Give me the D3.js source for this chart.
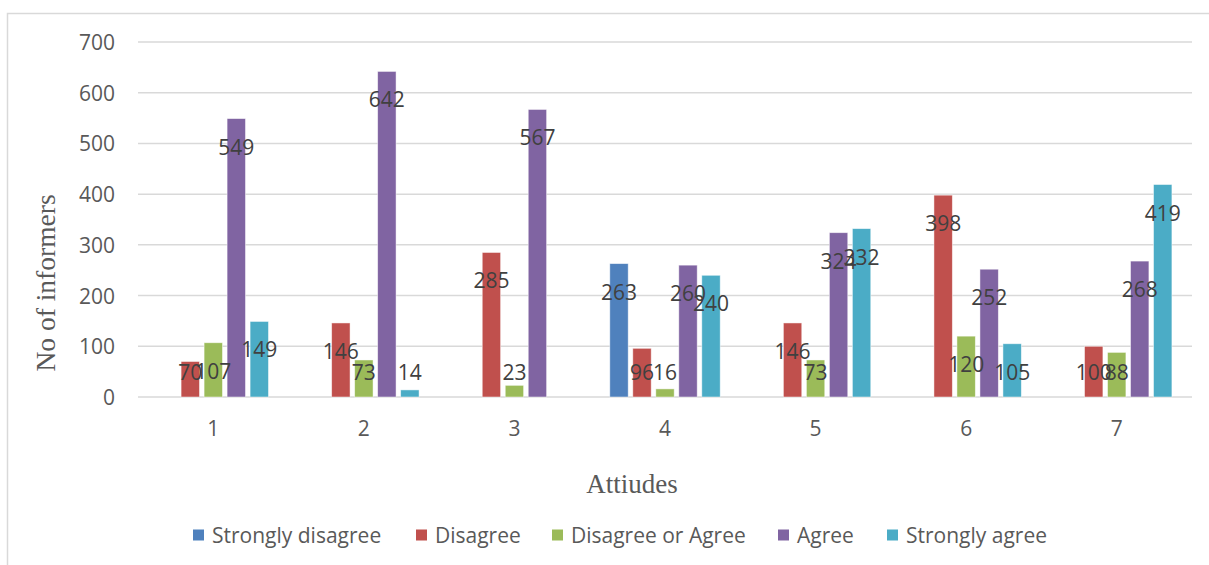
<!DOCTYPE html>
<html>
<head>
<meta charset="utf-8">
<script src="https://cdn.jsdelivr.net/npm/d3@7"></script>
<style>
  html, body { margin: 0; padding: 0; background: #fff; }
  svg { display: block; }
</style>
</head>
<body>
<svg id="chart" width="1209" height="565"></svg>
<script>
// Attitude statements 1–7 and the response counts for each answer option
const categories = ["1", "2", "3", "4", "5", "6", "7"];
const seriesNames = ["Strongly disagree", "Disagree", "Disagree or Agree", "Agree", "Strongly agree"];
const stronglyDisagree = [null, null, null, 263, null, null, null];
const disagree = [70, 146, 285, 96, 146, 398, 100];
const disagreeOrAgree = [107, 73, 23, 16, 73, 120, 88];
const agree = [549, 642, 567, 260, 324, 252, 268];
const stronglyAgree = [149, 14, null, 240, 332, 105, 419];
const yTicks = [0, 100, 200, 300, 400, 500, 600, 700];
const colors = ["#4F81BD", "#C0504D", "#9BBB59", "#8064A2", "#4BACC6"];

const seriesValues = [stronglyDisagree, disagree, disagreeOrAgree, agree, stronglyAgree];

const svg = d3.select("#chart");
const plot = { left: 138, right: 1192, top: 42, bottom: 397 };
const labelFont = "Open Sans, sans-serif";

// chart area frame
svg.append("rect")
  .attr("x", 7.5).attr("y", 13.5)
  .attr("width", 1230).attr("height", 600)
  .attr("fill", "none").attr("stroke", "#D9D9D9").attr("stroke-width", 1.5);

const x0 = d3.scaleBand().domain(categories).range([plot.left, plot.right]).padding(0);
const groupHalf = 57.5;
const x1 = d3.scaleBand().domain(seriesNames).range([-groupHalf, groupHalf]).paddingInner(0.2).paddingOuter(0.1);
const y = d3.scaleLinear().domain([0, 700]).range([plot.bottom, plot.top]);

// horizontal gridlines
svg.append("g").selectAll("line").data(yTicks).join("line")
  .attr("x1", plot.left).attr("x2", plot.right)
  .attr("y1", d => y(d)).attr("y2", d => y(d))
  .attr("stroke", "#D9D9D9").attr("stroke-width", 1.5);

// y tick labels
svg.append("g").selectAll("text").data(yTicks).join("text")
  .attr("x", 115).attr("y", d => y(d))
  .attr("text-anchor", "end").attr("dominant-baseline", "central")
  .attr("font-family", labelFont).attr("font-size", 21)
  .attr("fill", "#595959")
  .text(d => d);

// x tick labels
svg.append("g").selectAll("text").data(categories).join("text")
  .attr("x", d => x0(d) + x0.bandwidth() / 2).attr("y", 428)
  .attr("text-anchor", "middle").attr("dominant-baseline", "central")
  .attr("font-family", labelFont).attr("font-size", 21)
  .attr("fill", "#595959")
  .text(d => d);

// flatten into bar records
const bars = [];
categories.forEach((c, i) => {
  seriesNames.forEach((s, j) => {
    const v = seriesValues[j][i];
    if (v !== null && v !== undefined) bars.push({ cat: c, series: s, idx: j, value: v });
  });
});

const barX = d => x0(d.cat) + x0.bandwidth() / 2 + x1(d.series);

svg.append("g").selectAll("rect").data(bars).join("rect")
  .attr("x", barX)
  .attr("y", d => y(d.value))
  .attr("width", x1.bandwidth())
  .attr("height", d => y(0) - y(d.value))
  .attr("fill", d => colors[d.idx])
  .attr("stroke", "#ffffff").attr("stroke-opacity", 0.6).attr("stroke-width", 0.8);

// value labels: just inside the bar end, kept clear of the baseline
svg.append("g").selectAll("text").data(bars).join("text")
  .attr("x", d => barX(d) + x1.bandwidth() / 2)
  .attr("y", d => Math.min(y(d.value) + 28, y(0) - 25))
  .attr("text-anchor", "middle").attr("dominant-baseline", "central")
  .attr("font-family", labelFont).attr("font-size", 21)
  .attr("fill", "#404040")
  .text(d => d.value);

// axis titles
svg.append("text")
  .attr("transform", "translate(45,283) rotate(-90)")
  .attr("text-anchor", "middle").attr("dominant-baseline", "central")
  .attr("font-family", "Liberation Serif, Times New Roman, serif").attr("font-size", 27.5)
  .attr("fill", "#595959")
  .text("No of informers");

svg.append("text")
  .attr("x", 632).attr("y", 484)
  .attr("text-anchor", "middle").attr("dominant-baseline", "central")
  .attr("font-family", "Liberation Serif, Times New Roman, serif").attr("font-size", 27)
  .attr("fill", "#595959")
  .text("Attiudes");

// legend
const legendStarts = [193, 416, 552, 778, 887];
const legend = svg.append("g").selectAll("g").data(seriesNames).join("g")
  .attr("transform", (d, i) => `translate(${legendStarts[i]},535)`);
legend.append("rect")
  .attr("x", 0).attr("y", -5.5).attr("width", 11).attr("height", 11)
  .attr("fill", (d, i) => colors[i]);
legend.append("text")
  .attr("x", 19).attr("y", 0)
  .attr("dominant-baseline", "central")
  .attr("font-family", labelFont).attr("font-size", 21)
  .attr("fill", "#595959")
  .text(d => d);
</script>
</body>
</html>
